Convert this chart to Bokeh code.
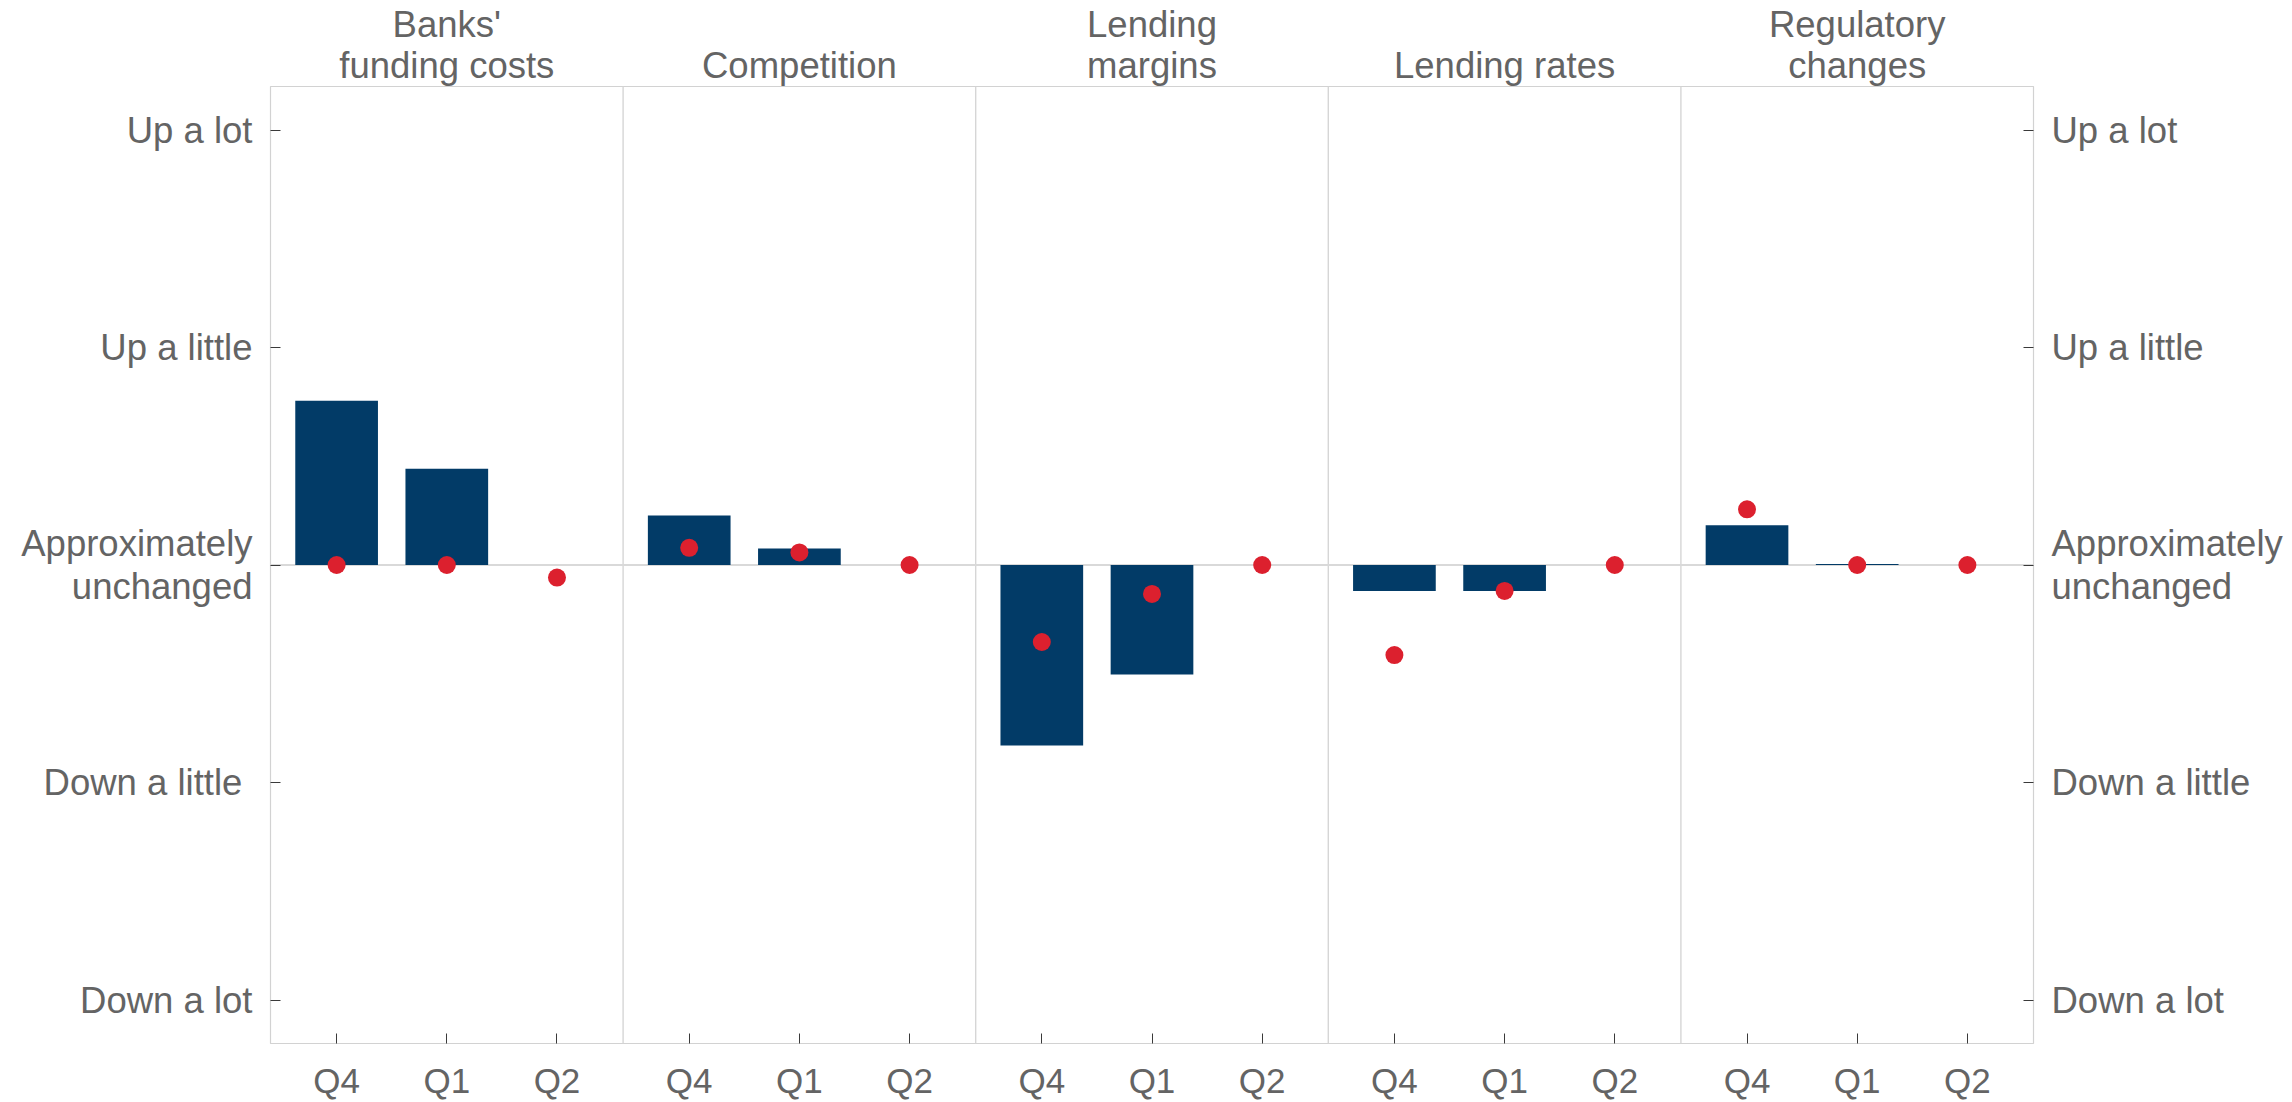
from bokeh.plotting import figure
from bokeh.models import Range1d, FixedTicker, LinearAxis, Span, ColumnDataSource
from bokeh.embed import file_html
from bokeh.resources import INLINE

# ---- data ----
panels = ["Banks'\nfunding costs", "Competition", "Lending\nmargins", "Lending rates", "Regulatory\nchanges"]
quarters = ["Q4", "Q1", "Q2"]

bars_funding = [0.755, 0.443, 0.0]
bars_competition = [0.228, 0.076, 0.0]
bars_margins = [-0.83, -0.504, 0.0]
bars_rates = [-0.119, -0.119, 0.0]
bars_regulatory = [0.183, 0.005, 0.0]

dots_funding = [0.0, 0.0, -0.058]
dots_competition = [0.079, 0.058, 0.0]
dots_margins = [-0.354, -0.133, 0.0]
dots_rates = [-0.414, -0.119, 0.0]
dots_regulatory = [0.256, 0.0, 0.0]

y_levels = [2, 1, 0, -1, -2]
y_labels = ["Up a lot", "Up a little", "Approximately\nunchanged", "Down a little\u00a0", "Down a lot"]

bar_series = [bars_funding, bars_competition, bars_margins, bars_rates, bars_regulatory]
dot_series = [dots_funding, dots_competition, dots_margins, dots_rates, dots_regulatory]

# ---- styling ----
FONT = "Liberation Sans"
TXT = "#646464"
NAVY = "#023b67"
RED = "#dc202e"
SPACING = 0.3125

xs, bar_vals, dot_vals, xlabels = [], [], [], []
for i, panel in enumerate(panels):
    for j, q in enumerate(quarters):
        xs.append(i + 0.5 + (j - 1) * SPACING)
        bar_vals.append(bar_series[i][j])
        dot_vals.append(dot_series[i][j])
        xlabels.append(q)
panel_centers = [i + 0.5 for i in range(len(panels))]

src = ColumnDataSource(dict(x=xs, bar=bar_vals, dot=dot_vals))

p = figure(width=2292, height=1102, output_backend="svg", toolbar_location=None,
           x_range=Range1d(0, len(panels)), y_range=Range1d(-2.2, 2.2),
           min_border_left=270, min_border_right=259, min_border_top=85, min_border_bottom=58)
p.background_fill_color = "white"
p.border_fill_color = "white"
p.outline_line_color = "#d2d2d2"
p.outline_line_width = 1.2
p.xgrid.visible = False
p.ygrid.visible = False

# separators and zero line
for k in range(1, len(panels)):
    p.add_layout(Span(location=k, dimension="height", line_color="#d6d6d6", line_width=1.4, level="underlay"))
p.add_layout(Span(location=0, dimension="width", line_color="#d9d9d9", line_width=2, level="underlay"))

p.vbar(x="x", top="bar", bottom=0, width=0.2345, source=src, fill_color=NAVY, line_color=None)
p.scatter(x="x", y="dot", size=18, source=src, fill_color=RED, line_color=None)

# x axis (quarters)
xa = p.xaxis[0]
xa.ticker = FixedTicker(ticks=xs)
xa.major_label_overrides = {x: l for x, l in zip(xs, xlabels)}

# y axes
ra = LinearAxis()
p.add_layout(ra, "right")
ya = p.yaxis[0]
for ax in [ya, ra]:
    ax.ticker = FixedTicker(ticks=y_levels)
    ax.major_label_overrides = dict(zip(y_levels, y_labels))
    ax.major_label_standoff = 18
    ax.major_label_text_font_size = "36.5px"
    ax.major_label_text_line_height = 1.05

for ax in [xa, ya, ra]:
    ax.axis_line_color = None
    ax.major_tick_in = 10
    ax.major_tick_out = 0
    ax.minor_tick_line_color = None
    ax.major_tick_line_color = "#3a3a3a"
    ax.major_tick_line_width = 1
    ax.major_label_text_font = FONT
    ax.major_label_text_color = TXT
xa.major_label_text_font_size = "35px"
xa.major_label_standoff = 17

# panel titles: numeric axis above with panel names at panel centres
ta = LinearAxis(ticker=FixedTicker(ticks=panel_centers))
ta.major_label_overrides = dict(zip(panel_centers, panels))
ta.axis_line_color = None
ta.major_tick_line_color = None
ta.minor_tick_line_color = None
ta.major_tick_in = 0
ta.major_tick_out = 0
ta.major_label_standoff = 1
ta.major_label_text_font = FONT
ta.major_label_text_font_size = "36.5px"
ta.major_label_text_color = TXT
ta.major_label_text_line_height = 1.0
p.add_layout(ta, "above")

open("out.html", "w").write(file_html(p, INLINE))
